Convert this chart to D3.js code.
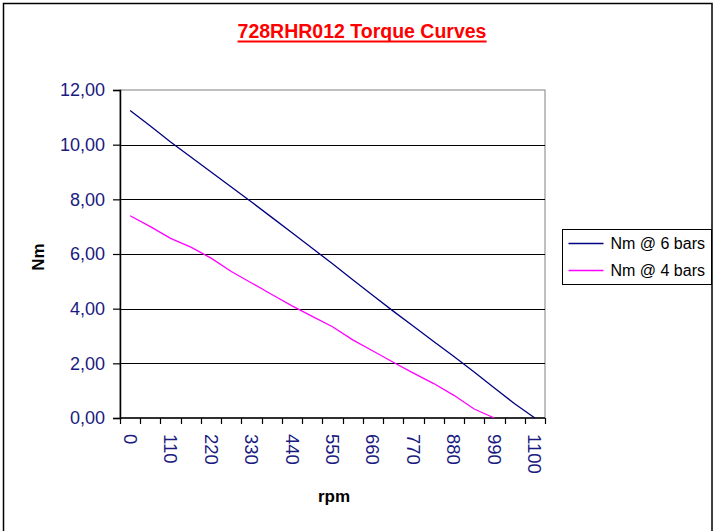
<!DOCTYPE html>
<html>
<head>
<meta charset="utf-8">
<script src="https://cdn.jsdelivr.net/npm/d3@7"></script>
<style>
  html, body { margin: 0; padding: 0; background: #fff; }
  svg { display: block; font-family: "Liberation Sans", Arial, sans-serif; }
</style>
</head>
<body>
<svg id="chart" width="714" height="531"></svg>
<script>
// ---- data ----
const rpmCategories = [0, 55, 110, 165, 220, 275, 330, 385, 440, 495, 550, 605, 660, 715, 770, 825, 880, 935, 990, 1045, 1100];
const nm6bars = [11.25, 10.68, 10.10, 9.55, 9.00, 8.45, 7.90, 7.34, 6.78, 6.21, 5.64, 5.06, 4.48, 3.91, 3.36, 2.80, 2.25, 1.68, 1.10, 0.52, 0.00];
const nm4bars = [7.40, 7.00, 6.57, 6.25, 5.85, 5.36, 4.94, 4.52, 4.10, 3.72, 3.34, 2.86, 2.45, 2.04, 1.64, 1.26, 0.83, 0.33, 0.00, null, null];
const yTicks = [0, 2, 4, 6, 8, 10, 12];
const xTickLabels = [0, 110, 220, 330, 440, 550, 660, 770, 880, 990, 1100];
const seriesNames = ["Nm @ 6 bars", "Nm @ 4 bars"];
const titleText = "728RHR012 Torque Curves";

// ---- layout ----
const svg = d3.select("#chart");
const plot = { left: 120, right: 545, top: 90, bottom: 418 };

// frame
svg.append("rect").attr("x", 3.5).attr("y", 3.5).attr("width", 708.5).attr("height", 560)
  .attr("fill", "#fff").attr("stroke", "#000").attr("stroke-width", 1.5);

const x = d3.scaleBand().domain(rpmCategories).range([plot.left, plot.right]).padding(0);
const y = d3.scaleLinear().domain([0, 12]).range([plot.bottom, plot.top]);
const cx = d => x(d) + x.bandwidth() / 2;

// plot area border
svg.append("rect").attr("x", plot.left).attr("y", plot.top)
  .attr("width", plot.right - plot.left).attr("height", plot.bottom - plot.top)
  .attr("fill", "#fff").attr("stroke", "#808080").attr("stroke-width", 1);

// gridlines
svg.append("g").selectAll("line").data(yTicks.filter(t => t > 0 && t < 12)).join("line")
  .attr("x1", plot.left).attr("x2", plot.right)
  .attr("y1", d => Math.round(y(d)) + 0.5).attr("y2", d => Math.round(y(d)) + 0.5)
  .attr("stroke", "#000").attr("stroke-width", 1);

// y axis
const yAxis = d3.axisLeft(y).tickValues(yTicks).tickSize(7).tickPadding(8)
  .tickFormat(d => d3.format(".2f")(d).replace(".", ","));
const gy = svg.append("g").attr("transform", `translate(${plot.left},0)`).call(yAxis);
gy.select(".domain").attr("stroke", "#000").attr("stroke-width", 1.5);
gy.selectAll(".tick line").attr("stroke", "#000").attr("stroke-width", 1.2);
gy.selectAll("text").attr("fill", "#1a1a80").attr("font-size", 18);

// x axis (category)
const xAxis = d3.axisBottom(x).tickValues(xTickLabels).tickSize(0).tickPadding(0)
  .tickFormat(d => String(d));
const gx = svg.append("g").attr("transform", `translate(0,${plot.bottom})`).call(xAxis);
gx.select(".domain").remove();
gx.selectAll(".tick text")
  .attr("fill", "#1a1a80").attr("font-size", 18.5)
  .attr("text-anchor", "start")
  .attr("transform", "rotate(90)")
  .attr("x", 16).attr("y", 0).attr("dy", "0.35em");

// x axis line + boundary ticks
const boundaries = rpmCategories.map(d => x(d)).concat([plot.right]);
svg.append("line").attr("x1", plot.left).attr("x2", plot.right)
  .attr("y1", plot.bottom).attr("y2", plot.bottom).attr("stroke", "#000").attr("stroke-width", 1.5);
svg.append("g").selectAll("line").data(boundaries).join("line")
  .attr("x1", d => Math.round(d) + 0.5).attr("x2", d => Math.round(d) + 0.5)
  .attr("y1", plot.bottom).attr("y2", plot.bottom + 6)
  .attr("stroke", "#000").attr("stroke-width", 1.2);

// lines
const line = d3.line().defined(d => d.v !== null).x(d => cx(d.c)).y(d => y(d.v));
const colors = ["#000080", "#ff00ff"];
[nm6bars, nm4bars].forEach((vals, i) => {
  svg.append("path")
    .datum(rpmCategories.map((c, j) => ({ c, v: vals[j] })))
    .attr("fill", "none").attr("stroke", colors[i]).attr("stroke-width", 1.3)
    .attr("d", line);
});

// title with thick underline
const title = svg.append("text").attr("x", 362).attr("y", 38).attr("text-anchor", "middle")
  .attr("font-size", 19.5).attr("font-weight", "bold").attr("fill", "#ff0000")
  .text(titleText);
const tb = title.node().getBBox();
svg.append("line").attr("x1", tb.x).attr("x2", tb.x + tb.width)
  .attr("y1", 41.5).attr("y2", 41.5).attr("stroke", "#ff0000").attr("stroke-width", 2);

// axis titles
svg.append("text").attr("x", 334).attr("y", 502).attr("text-anchor", "middle")
  .attr("font-size", 17).attr("font-weight", "bold").attr("fill", "#000").text("rpm");
svg.append("text").attr("transform", "translate(44,257) rotate(-90)").attr("text-anchor", "middle")
  .attr("font-size", 17).attr("font-weight", "bold").attr("fill", "#000").text("Nm");

// legend
const lg = svg.append("g").attr("transform", "translate(562.5,229.5)");
lg.append("rect").attr("width", 149).attr("height", 55).attr("fill", "#fff")
  .attr("stroke", "#000").attr("stroke-width", 1);
seriesNames.forEach((name, i) => {
  const yy = 14 + i * 27;
  lg.append("line").attr("x1", 6).attr("x2", 41).attr("y1", yy).attr("y2", yy)
    .attr("stroke", colors[i]).attr("stroke-width", 1.3);
  lg.append("text").attr("x", 48).attr("y", yy).attr("dy", "0.35em")
    .attr("font-size", 16).attr("fill", "#000").text(name);
});
</script>
</body>
</html>
